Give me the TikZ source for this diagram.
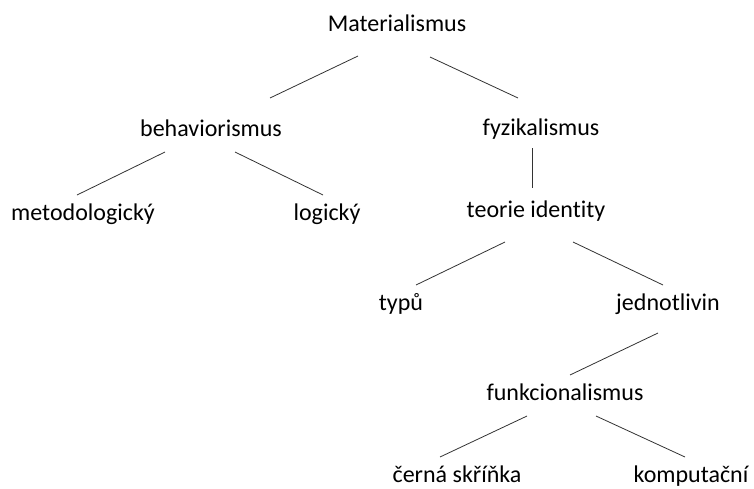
\documentclass[tikz,border=0pt]{standalone}
\usepackage{fontspec}
\setmainfont{Carlito}[Ligatures=NoCommon]
\begin{document}
\begin{tikzpicture}[x=1pt,y=-1pt,font=\fontsize{24}{29}\selectfont,
		word/.style={anchor=base,inner sep=0pt},
		branch/.style={line width=0.8pt,black!80}]
			\useasboundingbox (0,0) rectangle (754,488);
			\node[word] (mat) at (397,31) {Materialismus};
			\node[word] (beh) at (211,136) {behaviorismus};
			\node[word] (fyz) at (541,135) {fyzikalismus};
			\node[word] (met) at (83,220) {metodologický};
			\node[word] (log) at (327,220) {logický};
			\node[word] (teo) at (536,217) {teorie identity};
			\node[word] (typ) at (401,310) {typů};
			\node[word] (jed) at (668,310) {jednotlivin};
			\node[word] (fun) at (565,400) {funkcionalismus};
			\node[word] (cer) at (457,482) {černá skříňka};
			\node[word] (kom) at (691,482) {komputační};
			\draw[branch] ([shift={(-39,25)}]mat.base)--([shift={(59,-38)}]beh.base);
			\draw[branch] ([shift={(33,26)}]mat.base)--([shift={(-23,-37)}]fyz.base);
			\draw[branch] ([shift={(-46,16)}]beh.base)--([shift={(-6,-25)}]met.base);
			\draw[branch] ([shift={(24,16)}]beh.base)--([shift={(-4,-25)}]log.base);
			\draw[branch] ([shift={(-9,13)}]fyz.base)--([shift={(-4,-29)}]teo.base);
			\draw[branch] ([shift={(-31,25)}]teo.base)--([shift={(15,-25)}]typ.base);
			\draw[branch] ([shift={(37,25)}]teo.base)--([shift={(-5,-25)}]jed.base);
			\draw[branch] ([shift={(-10,23)}]jed.base)--([shift={(5,-25)}]fun.base);
			\draw[branch] ([shift={(-38,16)}]fun.base)--([shift={(-17,-25)}]cer.base);
			\draw[branch] ([shift={(31,16)}]fun.base)--([shift={(-6,-25)}]kom.base);
		\end{tikzpicture}
\end{document}
